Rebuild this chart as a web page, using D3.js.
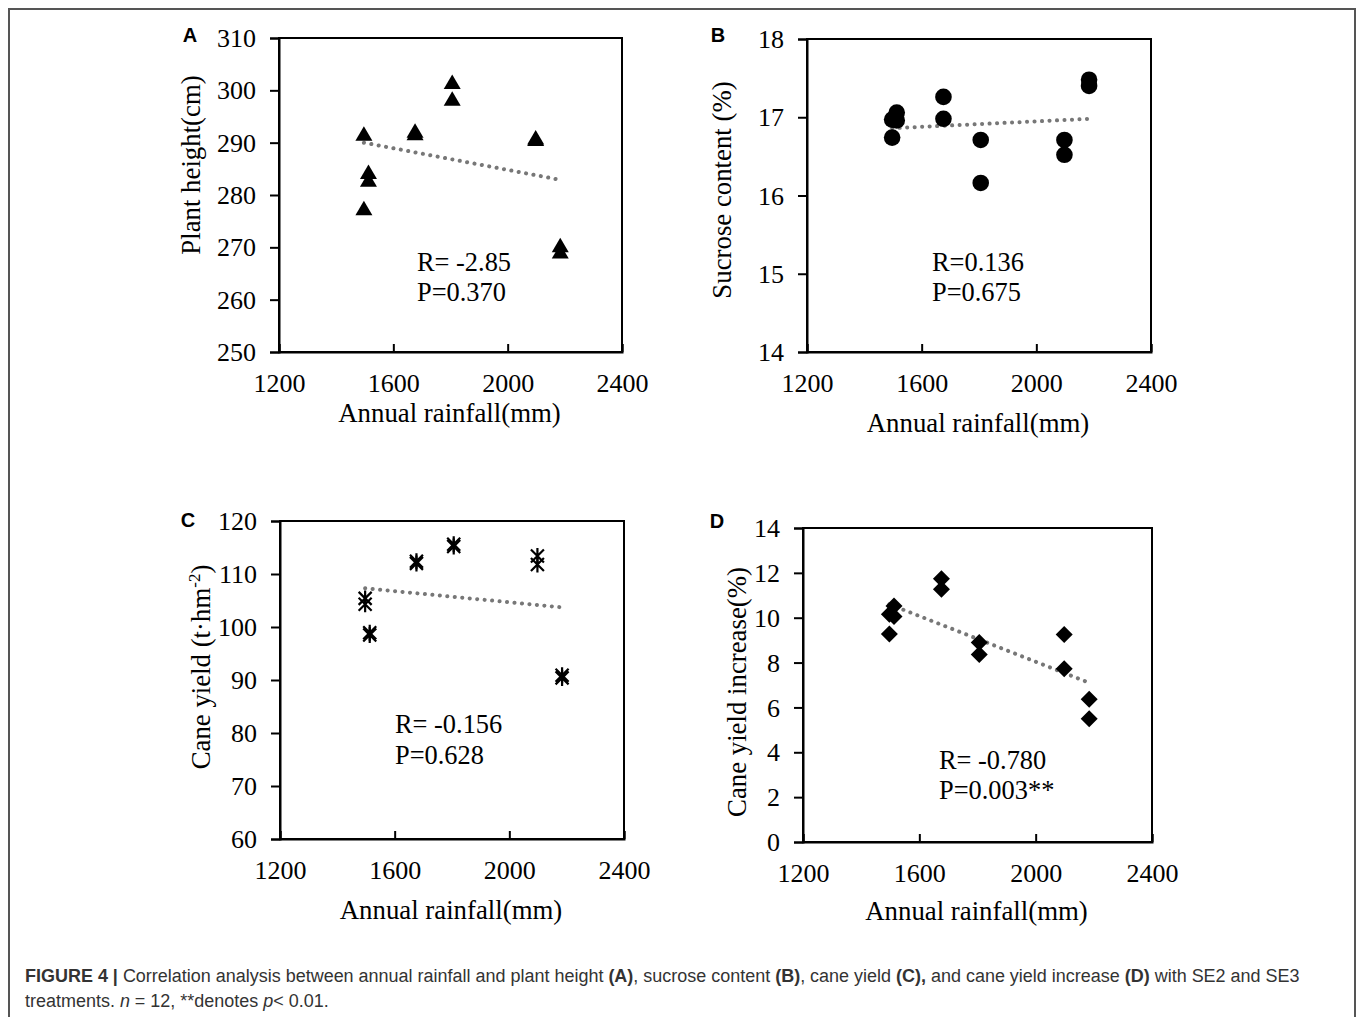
<!DOCTYPE html>
<html><head><meta charset="utf-8">
<script src="https://cdn.jsdelivr.net/npm/d3@7"></script>
<style>body{margin:0;background:#fff}svg{display:block}</style>
</head><body>
<svg id="fig" width="1360" height="1017"></svg>
<script>
// ---------- DATA ----------
const rainfall = [1497, 1497, 1513, 1513, 1676, 1676, 1806, 1806, 2098, 2098, 2184, 2184];
const xTicks = [1200, 1600, 2000, 2400];

const plantHeight = [291.5, 277.3, 284.2, 282.7, 292.1, 291.6, 301.4, 298.2, 290.8, 290.5, 270.2, 269.0];
const sucrose     = [16.97, 16.74, 17.06, 16.96, 17.26, 16.98, 16.71, 16.16, 16.71, 16.52, 17.48, 17.40];
const caneYield   = [105.4, 104.3, 98.9, 98.5, 112.4, 112.0, 115.6, 115.2, 113.4, 111.8, 90.9, 90.4];
const yieldInc    = [10.15, 9.27, 10.52, 10.05, 11.74, 11.27, 8.89, 8.36, 9.25, 7.73, 6.36, 5.50];

const ticksA = [250, 260, 270, 280, 290, 300, 310];
const ticksB = [14, 15, 16, 17, 18];
const ticksC = [60, 70, 80, 90, 100, 110, 120];
const ticksD = [0, 2, 4, 6, 8, 10, 12, 14];

const trendX = [1497, 2184];
const trendA = [290.0, 282.9];
const trendB = [16.86, 16.98];
const trendC = [107.3, 103.7];
const trendD = [10.6, 7.1];

const statsA = ["R= -2.85", "P=0.370"];
const statsB = ["R=0.136", "P=0.675"];
const statsC = ["R= -0.156", "P=0.628"];
const statsD = ["R= -0.780", "P=0.003**"];

const titlesY = ["Plant height(cm)", "Sucrose content (%)", "Cane yield (t·hm", "Cane yield increase(%)"];
const titleX = "Annual rainfall(mm)";
const panelLabels = ["A", "B", "C", "D"];

// ---------- LAYOUT ----------
const svg = d3.select("#fig");
const SERIF = "'Liberation Serif','Times New Roman',serif";
const SANS = "'Liberation Sans',Arial,sans-serif";
const TICK_FS = 26, TITLE_FS = 26.8, STAT_FS = 26.4;

svg.append("path")
  .attr("d", "M9,1030 L9,9 L1355,9 L1355,1030")
  .attr("fill", "none").attr("stroke", "#555").attr("stroke-width", 2);

const panels = [
  {label: panelLabels[0], vals: plantHeight, ticks: ticksA, trend: trendA, stats: statsA, ytitle: titlesY[0], marker: "tri",
   box: {l: 279, r: 622, t: 38, b: 352}, lab: [190, 35], yt: [191, 165], xt: 413, st: [417, 262, 292], xl: 383},
  {label: panelLabels[1], vals: sucrose, ticks: ticksB, trend: trendB, stats: statsB, ytitle: titlesY[1], marker: "circ",
   box: {l: 807, r: 1151, t: 39, b: 352}, lab: [718, 35], yt: [722, 190], xt: 423, st: [932, 262, 292], xl: 383},
  {label: panelLabels[2], vals: caneYield, ticks: ticksC, trend: trendC, stats: statsC, ytitle: titlesY[2], marker: "star", sup: "-2", tail: ")",
   box: {l: 280, r: 624, t: 521, b: 839}, lab: [188, 520], yt: [201, 667], xt: 910, st: [395, 724, 755], xl: 870},
  {label: panelLabels[3], vals: yieldInc, ticks: ticksD, trend: trendD, stats: statsD, ytitle: titlesY[3], marker: "dia",
   box: {l: 803, r: 1152, t: 528, b: 842}, lab: [717, 521], yt: [737, 692], xt: 911, st: [939, 760, 790], xl: 873}
];

panels.forEach(p => {
  const g = svg.append("g");
  const x = d3.scaleLinear().domain([xTicks[0], xTicks[xTicks.length - 1]]).range([p.box.l, p.box.r]);
  const y = d3.scaleLinear().domain([p.ticks[0], p.ticks[p.ticks.length - 1]]).range([p.box.b, p.box.t]);

  g.append("rect").attr("x", p.box.l).attr("y", p.box.t)
    .attr("width", p.box.r - p.box.l).attr("height", p.box.b - p.box.t)
    .attr("fill", "none").attr("stroke", "#000").attr("stroke-width", 2);

  const ya = g.append("g").attr("transform", `translate(${p.box.l},0)`)
    .call(d3.axisLeft(y).tickValues(p.ticks).tickSize(9).tickPadding(14).tickFormat(d3.format("d")));
  ya.select(".domain").attr("stroke-width", 2);
  ya.selectAll(".tick line").attr("stroke-width", 2);
  ya.selectAll(".tick text").attr("font-family", SERIF).attr("font-size", TICK_FS).attr("fill", "#000").attr("dy", "0.33em");

  const xa = g.append("g").attr("transform", `translate(0,${p.box.b})`)
    .call(d3.axisBottom(x).tickValues(xTicks).tickSize(-8).tickPadding(0).tickFormat(d3.format("d")));
  xa.select(".domain").attr("stroke-width", 2);
  xa.selectAll(".tick line").attr("stroke-width", 2);
  xa.selectAll(".tick text").attr("font-family", SERIF).attr("font-size", TICK_FS).attr("fill", "#000")
    .attr("y", p.xl - p.box.b).attr("dy", "0.33em");

  g.append("line")
    .attr("x1", x(trendX[0])).attr("y1", y(p.trend[0]))
    .attr("x2", x(trendX[1])).attr("y2", y(p.trend[1]))
    .attr("stroke", "#777").attr("stroke-width", 4).attr("stroke-linecap", "round")
    .attr("stroke-dasharray", "0.1,7.4");

  const pts = p.vals.map((v, i) => [x(rainfall[i]), y(v)]);
  const mg = g.append("g");
  pts.forEach(([px, py]) => {
    if (p.marker === "tri") {
      mg.append("path").attr("d", `M${px},${py - 8.5} L${px + 8.5},${py + 6} L${px - 8.5},${py + 6} Z`).attr("fill", "#000");
    } else if (p.marker === "circ") {
      mg.append("circle").attr("cx", px).attr("cy", py).attr("r", 8.3).attr("fill", "#000");
    } else if (p.marker === "dia") {
      mg.append("path").attr("d", `M${px},${py - 8.5} L${px + 8.5},${py} L${px},${py + 8.5} L${px - 8.5},${py} Z`).attr("fill", "#000");
    } else {
      const s = 6.5;
      mg.append("path")
        .attr("d", `M${px - s},${py - s} L${px + s},${py + s} M${px + s},${py - s} L${px - s},${py + s} M${px},${py - s - 1.5} L${px},${py + s + 1.5}`)
        .attr("stroke", "#000").attr("stroke-width", 2.2).attr("fill", "none");
    }
  });

  p.stats.forEach((s, i) => {
    g.append("text").attr("x", p.st[0]).attr("y", p.st[1 + i]).attr("dy", "0.33em")
      .attr("font-family", SERIF).attr("font-size", STAT_FS).attr("fill", "#000").text(s);
  });

  g.append("text").attr("x", (p.box.l + p.box.r) / 2 - 1).attr("y", p.xt).attr("dy", "0.33em")
    .attr("text-anchor", "middle").attr("font-family", SERIF).attr("font-size", TITLE_FS).text(titleX);

  const yt = g.append("text").attr("transform", `translate(${p.yt[0]},${p.yt[1]}) rotate(-90)`)
    .attr("text-anchor", "middle").attr("dy", "0.33em")
    .attr("font-family", SERIF).attr("font-size", TITLE_FS).attr("fill", "#000");
  yt.append("tspan").text(p.ytitle);
  if (p.sup) {
    yt.append("tspan").attr("font-size", 17).attr("dy", "-0.6em").text(p.sup);
    yt.append("tspan").attr("dy", "0.4em").text(p.tail);
  }

  g.append("text").attr("x", p.lab[0]).attr("y", p.lab[1]).attr("dy", "0.36em")
    .attr("text-anchor", "middle").attr("font-family", SANS).attr("font-weight", "bold")
    .attr("font-size", 20).text(p.label);
});

// ---------- CAPTION ----------
const cap1 = [["FIGURE 4 | ", true], ["Correlation analysis between annual rainfall and plant height ", false], ["(A)", true],
  [", sucrose content ", false], ["(B)", true], [", cane yield ", false], ["(C),", true],
  [" and cane yield increase ", false], ["(D)", true], [" with SE2 and SE3", false]];
const c1 = svg.append("text").attr("x", 25).attr("y", 982).attr("font-family", SANS).attr("font-size", 16).attr("fill", "#333");
cap1.forEach(([t, b]) => c1.append("tspan").attr("font-weight", b ? "bold" : "normal").text(t));
const w = c1.node().getComputedTextLength();
const fs = 16 * 1275 / w;
c1.attr("font-size", fs);

const c2 = svg.append("text").attr("x", 25).attr("y", 1007).attr("font-family", SANS).attr("font-size", fs).attr("fill", "#333");
c2.append("tspan").text("treatments. ");
c2.append("tspan").attr("font-style", "italic").text("n");
c2.append("tspan").text(" = 12, **denotes ");
c2.append("tspan").attr("font-style", "italic").text("p");
c2.append("tspan").text("< 0.01.");
</script>
</body></html>
